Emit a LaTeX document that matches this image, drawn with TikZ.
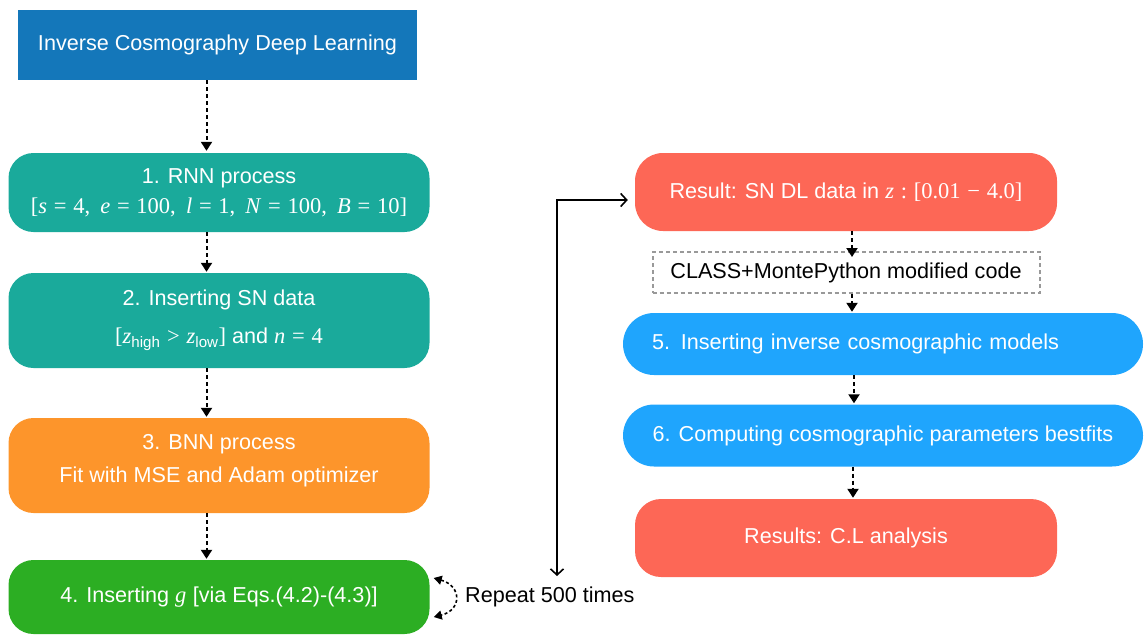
\documentclass[tikz,border=0pt]{standalone}
\usepackage{fontspec}
\setmainfont{Liberation Sans}
\newfontfamily\tmsfam{Liberation Serif}
\newcommand\tms{\tmsfam\fontsize{22.5}{31}\selectfont}
\newcommand\rel[1]{\hspace{0.3em}#1\hspace{0.3em}}
\newcommand\cm{,\hspace{0.45em}}
\usetikzlibrary{arrows.meta}
\definecolor{cTop}{HTML}{1477BA}
\definecolor{cTeal}{HTML}{1AAA9B}
\definecolor{cOrange}{HTML}{FD952B}
\definecolor{cGreen}{HTML}{2CAE23}
\definecolor{cRed}{HTML}{FD6756}
\definecolor{cBlue}{HTML}{1FA5FD}
\definecolor{cGray}{HTML}{999999}
\tikzset{
  box/.style={draw=none, text=white, align=center, inner sep=0pt,
    font=\fontsize{21.6}{31}\selectfont},
  leftbox/.style={box, rounded corners=25pt, minimum width=421pt},
  flowarr/.style={draw=black, line width=2pt, dash pattern=on 4pt off 3pt,
    -{Triangle[width=11pt,length=9pt]}},
  looparr/.style={draw=black, line width=1.6pt, dash pattern=on 3pt off 2.5pt,
    {Triangle[width=9pt,length=8pt]}-{Triangle[width=9pt,length=8pt]}},
  solidarr/.style={draw=black, line width=1.6pt,
    {Straight Barb[length=6pt,width=13pt]}-{Straight Barb[length=6pt,width=13pt]}},
}
\begin{document}
\begin{tikzpicture}[x=1pt,y=-1pt]
\path[use as bounding box] (0,0) rectangle (1145,635);

% left column
\node[box, fill=cTop, minimum width=399pt, minimum height=70pt] (top) at (217.5,45) {Inverse Cosmography Deep Learning};
\node[leftbox, fill=cTeal, minimum height=79pt] (b1) at (219,192.5)
  {1. RNN process\\[-1pt] {\tms[\textit{s}\rel{=}4\cm\textit{e}\rel{=}100\cm\textit{l}\rel{=}1\cm\textit{N}\rel{=}100\cm\textit{B}\rel{=}10]}};
\node[leftbox, fill=cTeal, minimum height=95pt] (b2) at (219,320.5)
  {2. Inserting SN data\\[7pt] {\tms[\textit{z}}\textsubscript{high}{\tms\rel{>}\textit{z}}\textsubscript{low}{\tms]} and {\tms\textit{n}\rel{=}4}};
\node[leftbox, fill=cOrange, minimum height=95pt] (b3) at (219,465.5)
  {3. BNN process\\[2pt] Fit with MSE and Adam optimizer\\[-16pt]\mbox{}};
\node[leftbox, fill=cGreen, minimum height=74pt] (b4) at (219,597)
  {4. Inserting {\tms\textit{g}}\hspace{0.3em}[via Eqs.(4.2)-(4.3)]};

\draw[flowarr] (top.south -| 206.5,0) -- ([yshift=2pt]b1.north -| 206.5,0);
\draw[flowarr] (b1.south -| 206.5,0) -- ([yshift=1pt]b2.north -| 206.5,0);
\draw[flowarr] (b2.south -| 206.5,0) -- ([yshift=1pt]b3.north -| 206.5,0);
\draw[flowarr] (b3.south -| 206.5,0) -- ([yshift=1pt]b4.north -| 206.5,0);

% repeat loop
\coordinate (r1) at ([xshift=4pt,yshift=19pt]b4.east);
\coordinate (r2) at ([xshift=4pt,yshift=-20pt]b4.east);
\draw[looparr] (r1) .. controls (462,586) and (462,610) .. (r2);
\node[anchor=west, inner sep=0pt, font=\fontsize{21.6}{25}\selectfont] (rep) at (465,597) {Repeat 500 times};

% right column
\node[box, fill=cRed, rounded corners=28pt, minimum width=422pt, minimum height=78pt] (res) at (846,192)
  {Result: SN DL data in {\tms\textit{z}\hspace{0.3em}:\hspace{0.3em}[0.01\rel{\char"2212}4.0]}};
\node[draw=cGray, line width=2pt, dash pattern=on 4pt off 3pt, inner sep=0pt,
  minimum width=387pt, minimum height=41pt, font=\fontsize{21.6}{25}\selectfont] (cls) at (846,272.5)
  {CLASS+MontePython modified code};
\node[box, fill=cBlue, rounded corners=31pt, minimum width=520pt, minimum height=62pt,
  text width=462pt, align=left, inner xsep=29pt] (b5) at (883,344)
  {5. Inserting inverse cosmographic models};
\node[box, fill=cBlue, rounded corners=31pt, minimum width=520pt, minimum height=62pt] (b6) at (883,435.5)
  {6. Computing cosmographic parameters bestfits};
\node[box, fill=cRed, rounded corners=26pt, minimum width=422pt, minimum height=78pt] (cl) at (846,538)
  {Results: C.L analysis};

\draw[flowarr] (res.south -| 852,0) -- ([yshift=-6pt]cls.north -| 852,0);
\draw[flowarr] (cls.south -| 852,0) -- ([yshift=1pt]b5.north -| 852,0);
\draw[flowarr] (b5.south -| 854,0) -- ([yshift=1pt]b6.north -| 854,0);
\draw[flowarr] (b6.south -| 853,0) -- ([yshift=1pt]cl.north -| 853,0);

% solid double arrow
\coordinate (dn) at (557,576);
\draw[solidarr] ([xshift=-7pt,yshift=-8pt]res.west) -| (dn);
\end{tikzpicture}
\end{document}
